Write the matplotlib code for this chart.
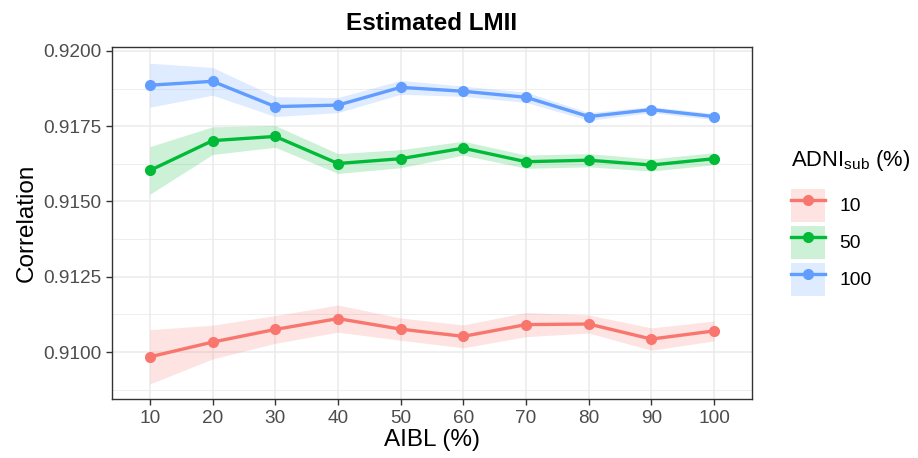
import numpy as np
import matplotlib
matplotlib.use("Agg")
import matplotlib.pyplot as plt
from matplotlib.lines import Line2D
from matplotlib.patches import Patch

plt.rcParams['font.family'] = ['Liberation Sans', 'DejaVu Sans']
plt.rcParams['mathtext.fontset'] = 'custom'
plt.rcParams['mathtext.rm'] = 'Liberation Sans'

# data
aibl = [10, 20, 30, 40, 50, 60, 70, 80, 90, 100]
groups = ['10', '50', '100']
corr_10 = [0.90984, 0.91033, 0.91075, 0.91111, 0.91076, 0.91052, 0.91091, 0.91093, 0.91043, 0.91070]
corr_50 = [0.91603, 0.91702, 0.91716, 0.91626, 0.91642, 0.91677, 0.91632, 0.91637, 0.91621, 0.91642]
corr_100 = [0.91886, 0.91899, 0.91815, 0.91820, 0.91879, 0.91866, 0.91846, 0.91782, 0.91805, 0.91782]
ci_10 = [0.00090, 0.00056, 0.00046, 0.00045, 0.00037, 0.00038, 0.00040, 0.00030, 0.00037, 0.00033]
ci_50 = [0.00079, 0.00046, 0.00036, 0.00033, 0.00030, 0.00023, 0.00022, 0.00022, 0.00020, 0.00020]
ci_100 = [0.00073, 0.00046, 0.00033, 0.00025, 0.00023, 0.00017, 0.00017, 0.00013, 0.00010, 0.00010]
yticks = [0.9100, 0.9125, 0.9150, 0.9175, 0.9200]

colors = ['#F8766D', '#00BA38', '#619CFF']

fig = plt.figure(figsize=(9.18, 4.58), dpi=100)
ax = fig.add_axes([0.1223, 0.1282, 0.6965, 0.7692])

x = np.array(aibl)
handles = []
for corr, ci, col in zip([corr_10, corr_50, corr_100], [ci_10, ci_50, ci_100], colors):
    corr = np.array(corr)
    ci = np.array(ci)
    ax.fill_between(x, corr - ci, corr + ci, color=col, alpha=0.2, linewidth=0, zorder=2)
    ax.plot(x, corr, color=col, lw=2.4, marker='o', ms=7, zorder=3)
    handles.append((Patch(facecolor=col, alpha=0.2, edgecolor='none'),
                    Line2D([], [], color=col, lw=2.4, marker='o', ms=7)))

ax.set_xlim(4, 106)
ax.set_ylim(0.90843, 0.92013)
ax.set_xticks(aibl)
ax.set_yticks(yticks)
ax.set_yticks([0.90875, 0.91125, 0.91375, 0.91625, 0.91875], minor=True)
ax.yaxis.set_major_formatter(plt.FuncFormatter(lambda v, p: f'{v:.4f}'))
ax.grid(True, which='major', color='#EBEBEB', lw=1.1, zorder=0)
ax.grid(True, which='minor', axis='y', color='#EBEBEB', lw=0.6, zorder=0)
ax.set_axisbelow(True)
ax.tick_params(which='major', length=4, width=1, color='#333333', labelcolor='#4D4D4D', labelsize=13.7)
ax.tick_params(which='minor', length=0)
for s in ax.spines.values():
    s.set_color('#333333')
    s.set_linewidth(1)

ax.set_xlabel('AIBL (%)', fontsize=17.5, labelpad=2)
ax.set_ylabel('Correlation', fontsize=17.5, labelpad=4)
ax.set_title('Estimated LMII', fontsize=17.5, fontweight='bold', pad=12)

leg = fig.legend(handles, groups, loc='upper left', bbox_to_anchor=(0.851, 0.698),
                 title='ADNI$_{\\mathrm{sub}}$ (%)', title_fontsize=15.8, fontsize=13.9,
                 frameon=False, handlelength=1.75, handleheight=2.25,
                 labelspacing=0.2, handletextpad=0.75, borderpad=0, alignment='left')
# extra room between the legend title and the keys
leg._legend_box.sep = 11.5

fig.savefig('out.png', dpi=100)
